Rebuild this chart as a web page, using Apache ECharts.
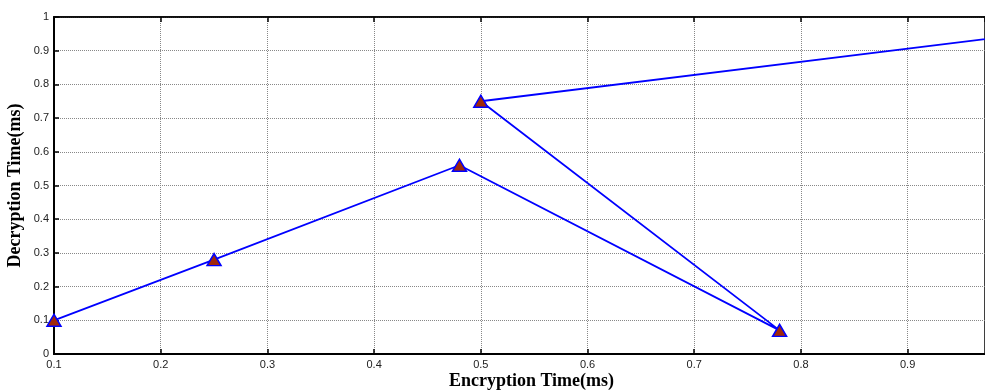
<!DOCTYPE html>
<html><head><meta charset="utf-8">
<script src="https://cdn.jsdelivr.net/npm/echarts@6/dist/echarts.min.js"></script>
<style>html,body{margin:0;padding:0;background:#fff}#c{width:985px;height:390px}</style>
</head><body><div id="c"></div>
<script>
var encTime = [0.1, 0.25, 0.48, 0.78, 0.5, 1.0];
var decTime = [0.1, 0.28, 0.56, 0.07, 0.75, 0.945];
var xTicks = [0.1, 0.2, 0.3, 0.4, 0.5, 0.6, 0.7, 0.8, 0.9];
var yTicks = [0, 0.1, 0.2, 0.3, 0.4, 0.5, 0.6, 0.7, 0.8, 0.9, 1];

var pts = encTime.map(function(x, i){ return [x, decTime[i]]; });
var chart = echarts.init(document.getElementById('c'));
var lab = {fontFamily:'Liberation Sans', fontSize:11, color:'#222'};
chart.setOption({
  animation:false,
  grid:{left:54, right:0, top:17, bottom:36, containLabel:false, outerBoundsMode:'none', show:true, borderColor:'#000', borderWidth:1.5},
  xAxis:[{
    type:'value', min:0.1, max:0.9725, interval:0.1,
    name:'Encryption Time(ms)', nameLocation:'middle', nameGap:18, nameMoveOverlap:false,
    nameTextStyle:{fontFamily:'Liberation Serif', fontWeight:'bold', fontSize:18, color:'#000', padding:[0,0,0,24]},
    axisLine:{show:true, lineStyle:{color:'#000', width:2}},
    axisTick:{show:true, inside:true, length:5, lineStyle:{color:'#000', width:1.5}},
    axisLabel:Object.assign({margin:5, showMaxLabel:false, formatter:function(v){
      return xTicks.some(function(t){return Math.abs(t-v)<1e-6;}) ? String(Math.round(v*10)/10) : '';}}, lab),
    splitLine:{show:true, lineStyle:{type:'dotted', color:'#888', width:1}}
  },{
    type:'value', position:'top', min:0.1, max:0.9725, interval:0.1,
    axisLine:{show:true, lineStyle:{color:'#000', width:1.5}},
    axisTick:{show:true, inside:true, length:5, lineStyle:{color:'#000', width:1.5}},
    axisLabel:{show:false}, splitLine:{show:false}
  }],
  yAxis:{
    type:'value', min:0, max:1, interval:0.1,
    name:'Decryption Time(ms)', nameLocation:'middle', nameGap:30, nameMoveOverlap:false,
    nameTextStyle:{fontFamily:'Liberation Serif', fontWeight:'bold', fontSize:18, color:'#000'},
    axisLine:{show:true, lineStyle:{color:'#000', width:2}},
    axisTick:{show:true, inside:true, length:5, lineStyle:{color:'#000', width:1.5}},
    axisLabel:Object.assign({margin:5, formatter:function(v){
      return yTicks.some(function(t){return Math.abs(t-v)<1e-6;}) ? String(Math.round(v*10)/10) : '';}}, lab),
    splitLine:{show:true, lineStyle:{type:'dotted', color:'#888', width:1}}
  },
  series:[{
    type:'line', data:pts, clip:true,
    lineStyle:{color:'#0000ff', width:1.8},
    symbol:'triangle', symbolSize:[14,12],
    itemStyle:{color:'#a0280a', borderColor:'#0000ff', borderWidth:1.5}
  }]
});
</script></body></html>
